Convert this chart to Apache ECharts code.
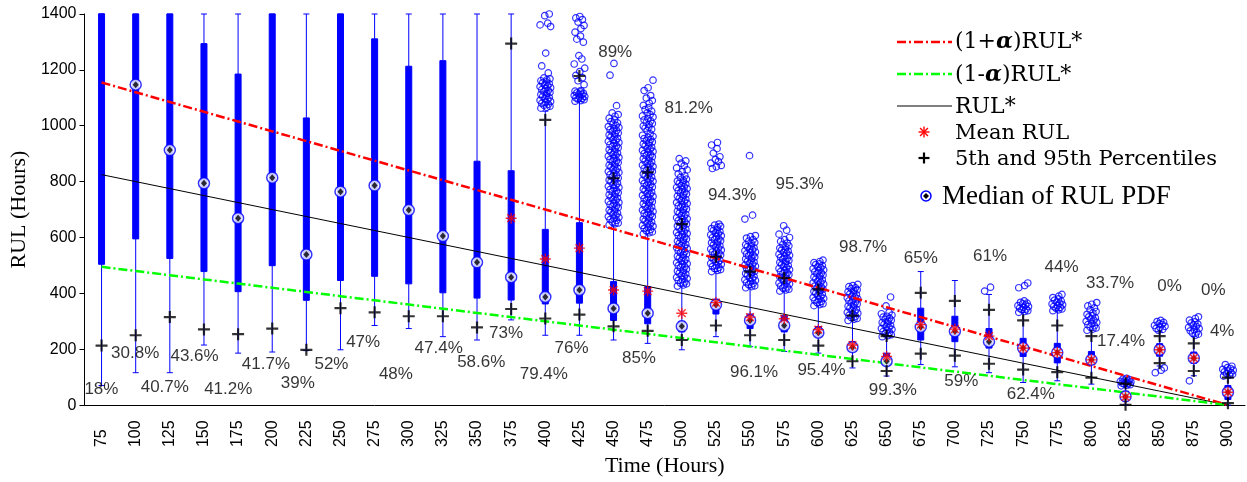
<!DOCTYPE html>
<html><head><meta charset="utf-8">
<script src="https://cdn.jsdelivr.net/npm/echarts@6/dist/echarts.min.js"></script>
<style>html,body{margin:0;padding:0;background:#fff}#c{width:1247px;height:482px}</style>
</head><body><div id="c"></div>
<script>
// ---- categories (Time, hours) ----
const times = [75,100,125,150,175,200,225,250,275,300,325,350,375,400,425,450,475,500,525,550,575,600,625,650,675,700,725,750,775,800,825,850,875,900];
const timeLabels = times.map(String);
const yTicks = [0,200,400,600,800,1000,1200,1400];

// ---- box statistics (RUL, hours); 1400 = clipped at top of axis ----
const whiskerLow = [70,116,116,215,186,190,195,198,285,274,245,233,305,250,250,233,221,198,245,209,192,186,133,104,145,137,116,81,87,75,0,140,105,0];
const q1 =        [504,595,525,478,406,499,375,446,461,434,402,383,376,362,365,303,291,262,326,274,262,245,192,145,233,227,204,174,151,145,15,175,150,20];
const medianRUL = [null,1147,913,794,669,814,539,764,786,698,605,511,458,387,412,346,329,282,359,303,285,259,207,157,280,264,227,204,188,162,31,198,168,46];
const q3 =        [1400,1400,1400,1294,1185,1400,1028,1400,1311,1213,1233,873,839,629,653,442,424,300,379,326,320,281,227,186,347,318,274,239,221,192,50,220,190,70];
const whiskerHigh=[1400,1400,1400,1400,1400,1400,1400,1400,1400,1400,1400,1400,1400,1052,1087,642,613,426,478,420,408,356,303,245,478,446,396,332,338,268,66,262,245,100];
const meanRUL =   [null,null,null,null,null,null,null,null,null,null,null,null,669,523,562,412,408,329,367,315,309,270,215,174,288,272,247,204,188,162,29,198,168,46];
const p5 =        [213,250,315,271,254,274,198,347,332,318,318,278,344,310,324,282,266,233,285,250,233,213,157,122,184,177,148,127,118,98,1,150,122,7];
const p95 =       [null,null,null,null,null,null,null,null,null,null,null,null,1294,1021,1178,812,833,648,531,478,455,414,320,247,402,373,341,303,285,247,77,247,221,98];

// ---- reference lines: RUL*, (1+a)RUL*, (1-a)RUL* ----
const rulStar  = [825,800,775,750,725,700,675,650,625,600,575,550,525,500,475,450,425,400,375,350,325,300,275,250,225,200,175,150,125,100,75,50,25,0];
const rulUpper = [1155,1120,1085,1050,1015,980,945,910,875,840,805,770,735,700,665,630,595,560,525,490,455,420,385,350,315,280,245,210,175,140,105,70,35,0];
const rulLower = [495,480,465,450,435,420,405,390,375,360,345,330,315,300,285,270,255,240,225,210,195,180,165,150,135,120,105,90,75,60,45,30,15,0];

// ---- outliers (RUL values per time) ----
const out400 = [1063,1066,1070,1073,1077,1080,1084,1087,1091,1094,1098,1101,1105,1108,1112,1115,1119,1122,1126,1129,1133,1136,1140,1143,1147,1150,1154,1157,1161,1164,1168,1171,1189,1214,1260,1355,1361,1367,1394,1400];
const out425 = [1088,1090,1093,1095,1098,1100,1103,1105,1108,1111,1113,1116,1118,1121,1124,1126,1147,1161,1172,1180,1194,1206,1221,1239,1251,1299,1310,1321,1335,1348,1359,1371,1380,1386,1391];
const out450 = [645,649,652,656,661,664,668,672,675,679,684,687,691,695,698,702,707,710,714,718,721,725,730,733,737,741,744,748,753,756,760,764,767,771,776,779,783,787,790,794,799,802,806,810,813,817,822,825,829,833,836,840,845,848,852,856,859,863,868,871,875,879,882,886,891,894,898,902,905,909,914,917,921,925,928,932,937,940,944,948,951,955,960,963,967,971,974,978,983,986,990,994,997,1001,1006,1010,1015,1021,1027,1034,1040,1046,1072,1181,1223];
const out475 = [613,617,620,624,629,632,636,640,643,647,652,655,659,663,666,670,675,678,682,686,689,693,698,701,705,709,712,716,721,724,728,732,735,739,744,747,751,755,758,762,767,770,774,778,781,785,790,793,797,801,804,808,813,816,820,824,827,831,836,839,843,847,850,854,859,862,866,870,873,877,882,885,889,893,896,900,905,908,912,916,919,923,928,931,935,939,942,946,951,954,958,962,966,971,983,987,991,995,999,1004,1008,1012,1017,1021,1026,1031,1035,1040,1046,1052,1058,1065,1073,1081,1090,1099,1108,1126,1136,1163];
const out500 = [426,430,434,437,441,446,449,453,457,460,464,469,472,476,480,483,487,492,495,499,503,506,510,515,518,522,526,529,533,538,541,545,549,552,556,561,564,568,572,575,579,584,587,591,595,598,602,607,610,614,618,621,625,630,633,637,641,644,648,653,656,660,664,667,671,676,679,683,687,690,694,699,702,706,710,713,717,722,725,729,733,736,740,745,748,752,756,759,763,768,771,775,779,782,786,791,794,798,802,805,809,815,821,828,836,842,849,857,866,874,882];
const out525 = [478,482,485,489,493,496,500,504,507,511,515,518,522,526,529,533,537,540,544,548,551,555,559,562,566,570,573,577,581,584,588,592,595,599,603,606,610,614,617,621,625,628,632,636,640,644,648,847,853,858,866,872,879,889,902,918,931,940];
const out550 = [420,424,427,431,435,438,442,446,449,453,457,460,464,468,471,475,479,482,486,490,493,497,501,504,508,512,515,519,523,526,530,534,537,541,545,548,552,556,559,563,567,570,574,578,582,587,592,598,603,607,666,680,893];
const out575 = [408,412,415,419,423,426,430,434,437,441,445,448,452,456,459,463,467,470,474,478,481,485,489,492,496,500,503,507,511,514,518,522,525,529,533,536,540,544,547,551,555,558,562,566,570,575,580,586,592,600,612,626,642];
const out600 = [356,360,363,367,371,374,378,382,385,389,393,396,400,404,407,411,415,418,422,426,429,433,437,440,444,448,451,455,459,462,466,470,473,477,481,484,488,492,495,499,503,506,510,514,519];
const out625 = [303,307,310,314,318,321,325,329,332,336,340,343,347,351,354,358,362,365,369,373,376,380,384,387,391,395,398,402,406,409,413,417,420,424,428,432];
const out650 = [245,249,252,256,260,263,267,271,274,278,282,285,289,293,296,300,304,307,311,315,318,322,327,332,355,387];
const out725 = [408,422];
const out750 = [332,335,338,341,344,347,350,353,356,359,362,365,368,373,420,428,437];
const out775 = [338,341,344,347,350,353,356,359,362,365,368,372,376,380,385,390,396];
const out800 = [268,272,276,280,284,288,292,296,300,304,308,312,316,320,325,330,335,341,348,355,361,367];
const out825 = [69,71,73,75,77,79,81,83,85,87,89,91,93,96];
const out850 = [116,125,133,268,271,275,278,282,285,289,292,296,299,303];
const out875 = [87,250,254,258,262,266,270,274,278,282,286,290,294,298,304,310,316];
const out900 = [104,107,110,113,116,119,122,125,128,131,134,139,145];
const outlierSets = [[400,out400],[425,out425],[450,out450],[475,out475],[500,out500],[525,out525],[550,out550],[575,out575],[600,out600],[625,out625],[650,out650],[725,out725],[750,out750],[775,out775],[800,out800],[825,out825],[850,out850],[875,out875],[900,out900]];

// ---- coverage percentages (text and where they sit, in Time / RUL units) ----
const pctText = ['18%','30.8%','40.7%','43.6%','41.2%','41.7%','39%','52%','47%','48%','47.4%','58.6%','73%','79.4%','76%','85%','89%','81.2%','94.3%','95.3%','96.1%','95.4%','98.7%','99.3%','65%','59%','61%','62.4%','44%','33.7%','17.4%','0%','0%','4%'];
const pctTime = [74.9,99.6,121.3,143.1,167.8,195.4,218.7,243.4,266.6,290.6,321.9,353.1,371.3,398.9,419.2,468.6,451.2,505,536.9,586.3,552.9,602.3,632.8,654.6,675,704.7,725.8,755.6,778.1,813.7,821.7,857.3,889.3,895.8];
const pctRUL  = [56,186,63,175,56,147,77,147,225,109,204,154,256,109,204,168,1263,1063,751,789,119,123,565,53,526,84,533,39,495,435,228,425,411,263];

// ---------------- styling / build ----------------
const jitter = [-3.2,1.1,3.4,-1.0,2.2,-2.6,0.3,3.9,-3.8,1.8,-0.4,2.9,-1.9,0.8];
const outlierData = [];
outlierSets.forEach(([t, vals]) => vals.forEach((v, k) => outlierData.push([t + jitter[k % jitter.length], v])));

const boxData = times.map((t, i) => [whiskerLow[i], q1[i], medianRUL[i] == null ? q3[i] : medianRUL[i], q3[i], whiskerHigh[i]]);
const nz = a => a.map(v => v == null ? '-' : v);

const sans = "'Liberation Sans', Arial, sans-serif";
const serif = "'Liberation Serif', 'Times New Roman', serif";
const cm = "'DejaVu Serif', serif";
const starPath = 'path://M6 0V12M0 6H12M1.8 1.8L10.2 10.2M10.2 1.8L1.8 10.2';
const plusPath = 'path://M4.9 0H7.1V4.9H12V7.1H7.1V12H4.9V7.1H0V4.9H4.9Z';
const dashDot = [9, 3, 2, 3];

function seg(x1, y1, x2, y2, stroke, lw) {
  return {type: 'line', shape: {x1: x1, y1: y1, x2: x2, y2: y2}, style: {stroke: stroke, lineWidth: lw}};
}
function legendText(x, y, text, size, family, rich) {
  const st = {text: text, fontSize: size, fontFamily: family, fill: '#000', verticalAlign: 'middle', textVerticalAlign: 'middle'};
  if (rich) st.rich = rich;
  return {type: 'text', x: x, y: y, style: st};
}
const alphaRich = {a: {fontSize: 22, fontFamily: cm, fontWeight: 'bold', fontStyle: 'italic'}};

const chart = echarts.init(document.getElementById('c'), null, {renderer: 'canvas'});
chart.setOption({
  animation: false,
  backgroundColor: '#fff',
  grid: {left: 75, right: 2, top: 14, bottom: 69, containLabel: false},
  xAxis: [{
    type: 'category', data: timeLabels, boundaryGap: true,
    axisLine: {lineStyle: {color: '#000', width: 1}},
    axisTick: {show: false},
    axisLabel: {rotate: 90, align: 'left', margin: 42, fontSize: 16, fontFamily: sans, color: '#000'},
    name: 'Time (Hours)', nameLocation: 'middle', nameGap: 44,
    nameTextStyle: {fontFamily: serif, fontSize: 22, color: '#000'}
  }, {
    type: 'value', min: 62.5, max: 912.5, show: false
  }],
  yAxis: {
    type: 'value', min: yTicks[0], max: yTicks[yTicks.length - 1], interval: 200,
    axisLine: {show: true, lineStyle: {color: '#000', width: 1}},
    axisTick: {show: true, length: 5, lineStyle: {color: '#000'}},
    axisLabel: {fontSize: 16, fontFamily: sans, color: '#000', margin: 8, formatter: v => String(v)},
    splitLine: {show: false},
    name: 'RUL (Hours)', nameLocation: 'middle', nameGap: 46,
    nameTextStyle: {fontFamily: serif, fontSize: 22, color: '#000'}
  },
  series: [
    {name: 'RUL PDF', type: 'boxplot', xAxisIndex: 0, data: boxData, boxWidth: [6, 6], silent: true, z: 2,
     itemStyle: {color: '#0000ff', borderColor: '#0000ff', borderWidth: 1}},
    {name: 'Outliers', type: 'scatter', xAxisIndex: 1, data: outlierData, symbol: 'circle', symbolSize: 6.5, silent: true, z: 3,
     itemStyle: {color: 'rgba(0,0,0,0)', borderColor: '#0000ff', borderWidth: 1.2}},
    {name: 'RUL*', type: 'line', xAxisIndex: 0, data: rulStar, symbol: 'none', silent: true, z: 4,
     lineStyle: {color: '#000', width: 1}},
    {name: '(1+α)RUL*', type: 'line', xAxisIndex: 0, data: rulUpper, symbol: 'none', silent: true, z: 4,
     lineStyle: {color: '#ff0000', width: 2.5, type: dashDot}},
    {name: '(1-α)RUL*', type: 'line', xAxisIndex: 0, data: rulLower, symbol: 'none', silent: true, z: 4,
     lineStyle: {color: '#00ff00', width: 2.5, type: dashDot}},
    {name: 'Median of RUL PDF', type: 'scatter', xAxisIndex: 0, data: nz(medianRUL), symbol: 'circle', symbolSize: 11, silent: true, z: 5,
     itemStyle: {color: '#fff', borderColor: '#0000ff', borderWidth: 1.5}},
    {name: 'Median centre', type: 'scatter', xAxisIndex: 0, data: nz(medianRUL), symbol: 'diamond', symbolSize: [6, 7], silent: true, z: 6,
     itemStyle: {color: '#000'}},
    {name: 'Mean RUL', type: 'scatter', xAxisIndex: 0, data: nz(meanRUL), symbol: starPath, symbolSize: 11, silent: true, z: 7,
     itemStyle: {color: 'rgba(0,0,0,0)', borderColor: '#ff0000', borderWidth: 1.4}},
    {name: '5th Percentile', type: 'scatter', xAxisIndex: 0, data: nz(p5), symbol: plusPath, symbolSize: 12, silent: true, z: 8,
     itemStyle: {color: '#000'}},
    {name: '95th Percentile', type: 'scatter', xAxisIndex: 0, data: nz(p95), symbol: plusPath, symbolSize: 12, silent: true, z: 8,
     itemStyle: {color: '#000'}},
    {name: 'Coverage', type: 'scatter', xAxisIndex: 1, symbolSize: 0, silent: true, z: 9,
     data: pctTime.map((t, i) => ({value: [t, pctRUL[i]], label: {formatter: pctText[i]}})),
     label: {show: true, position: 'inside', fontSize: 17, fontFamily: sans, color: '#000'}}
  ],
  graphic: [
    {type: 'line', shape: {x1: 897, y1: 42, x2: 952, y2: 42}, style: {stroke: '#ff0000', lineWidth: 2.5, lineDash: dashDot}},
    {type: 'line', shape: {x1: 897, y1: 74, x2: 952, y2: 74}, style: {stroke: '#00ff00', lineWidth: 2.5, lineDash: dashDot}},
    seg(897, 106, 952, 106, '#000', 1),
    seg(924, 126.5, 924, 137.5, '#ff0000', 1.4),
    seg(918.5, 132, 929.5, 132, '#ff0000', 1.4),
    seg(920.1, 128.1, 927.9, 135.9, '#ff0000', 1.4),
    seg(927.9, 128.1, 920.1, 135.9, '#ff0000', 1.4),
    seg(918.5, 158, 929.5, 158, '#000', 2.2),
    seg(924, 152.5, 924, 163.5, '#000', 2.2),
    {type: 'circle', shape: {cx: 926, cy: 196, r: 5}, style: {fill: '#fff', stroke: '#0000ff', lineWidth: 1.5}},
    {type: 'polygon', shape: {points: [[926, 193], [929, 196], [926, 199], [923, 196]]}, style: {fill: '#000'}},
    legendText(955, 42, '(1+{a|α})RUL*', 22, cm, alphaRich),
    legendText(955, 75, '(1-{a|α})RUL*', 22, cm, alphaRich),
    legendText(955, 107, 'RUL*', 22, cm),
    legendText(955, 134, 'Mean RUL', 21, cm),
    legendText(955, 160, '5th and 95th Percentiles', 21, cm),
    legendText(942, 197, 'Median of RUL PDF', 27, serif)
  ]
});
</script>
</body></html>
